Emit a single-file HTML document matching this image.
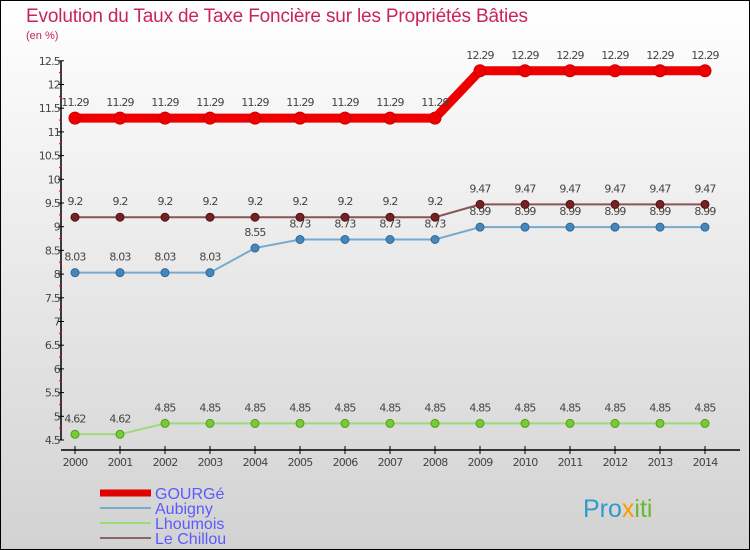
<!DOCTYPE html>
<html><head><meta charset="utf-8"><style>
body{margin:0}
#c{position:relative;width:750px;height:550px;overflow:hidden}
svg text{font-family:"DejaVu Sans","Liberation Sans",sans-serif}
</style></head><body>
<div id="c">
<svg id="s" width="750" height="550" xmlns="http://www.w3.org/2000/svg">
<defs><linearGradient id="bg" x1="0" y1="0" x2="0" y2="1"><stop offset="0" stop-color="#ffffff"/><stop offset="1" stop-color="#d2d2d2"/></linearGradient></defs>
<rect x="0.5" y="0.5" width="749" height="549" fill="url(#bg)" stroke="#000"/>
<text x="26" y="22" font-size="19" fill="#c8245a" style="font-family:'Liberation Sans',sans-serif" textLength="502">Evolution du Taux de Taxe Foncière sur les Propriétés Bâties</text>
<text x="26" y="39" font-size="11" fill="#c8245a" style="font-family:'Liberation Sans',sans-serif">(en %)</text>
<g id="axes"></g><g id="series"></g>
<g style="font-family:'Liberation Sans',sans-serif">
<line x1="100" y1="493" x2="151" y2="493" stroke="#e00000" stroke-width="7"/>
<text x="155" y="499" font-size="16" fill="#5a5aff" style="font-family:'Liberation Sans',sans-serif">GOURGé</text>
<line x1="100" y1="508" x2="151" y2="508" stroke="#77aacc" stroke-width="2"/>
<text x="155" y="514" font-size="16" fill="#5a5aff" style="font-family:'Liberation Sans',sans-serif">Aubigny</text>
<line x1="100" y1="523" x2="151" y2="523" stroke="#99dd77" stroke-width="2"/>
<text x="155" y="529" font-size="16" fill="#5a5aff" style="font-family:'Liberation Sans',sans-serif">Lhoumois</text>
<line x1="100" y1="538" x2="151" y2="538" stroke="#886666" stroke-width="2"/>
<text x="155" y="544" font-size="16" fill="#5a5aff" style="font-family:'Liberation Sans',sans-serif">Le Chillou</text>
</g>
<text x="583" y="517" font-size="25" fill="#3399cc" style="font-family:'Liberation Sans',sans-serif">Pro<tspan fill="#ff9900">x</tspan><tspan fill="#66bb33">iti</tspan></text>
</svg></div>
<script>
const years=[2000,2001,2002,2003,2004,2005,2006,2007,2008,2009,2010,2011,2012,2013,2014];
const gourge=[11.29,11.29,11.29,11.29,11.29,11.29,11.29,11.29,11.29,12.29,12.29,12.29,12.29,12.29,12.29];
const aubigny=[8.03,8.03,8.03,8.03,8.55,8.73,8.73,8.73,8.73,8.99,8.99,8.99,8.99,8.99,8.99];
const lhoumois=[4.62,4.62,4.85,4.85,4.85,4.85,4.85,4.85,4.85,4.85,4.85,4.85,4.85,4.85,4.85];
const chillou=[9.2,9.2,9.2,9.2,9.2,9.2,9.2,9.2,9.2,9.47,9.47,9.47,9.47,9.47,9.47];
const yTicks=[4.5,5,5.5,6,6.5,7,7.5,8,8.5,9,9.5,10,10.5,11,11.5,12,12.5];
const NS="http://www.w3.org/2000/svg";
const X=i=>75+i*45, Y=v=>440-(v-4.5)*47.4;
function el(t,a,p){const e=document.createElementNS(NS,t);for(const k in a)e.setAttribute(k,a[k]);p.appendChild(e);return e;}
const ax=document.getElementById('axes');
const ya=el('line',{x1:61,y1:Y(12.5),x2:61,y2:Y(4.5),stroke:'#000','stroke-width':1.5},ax);


yTicks.forEach((v,i)=>{
 el('line',{x1:58,y1:Y(v),x2:64,y2:Y(v),stroke:'#000'},ax);
 if(i<yTicks.length-1) el('line',{x1:59,y1:Y(v+0.25),x2:62,y2:Y(v+0.25),stroke:'#e00'},ax);
 const t=el('text',{x:60,y:Y(v)+4,'font-size':11,'text-anchor':'end',fill:'#444','letter-spacing':'-0.8'},ax);
 t.textContent=String(v);
 
 
});
const xa=el('line',{x1:61,y1:450,x2:740,y2:450,stroke:'#000','stroke-width':1.5},ax);


years.forEach((y,i)=>{
 el('line',{x1:X(i),y1:446,x2:X(i),y2:454,stroke:'#000'},ax);
 const t=el('text',{x:X(i),y:466,'font-size':11,'text-anchor':'middle',fill:'#444','letter-spacing':'-0.8'},ax);
 t.textContent=y;
 
 
});
const sg=document.getElementById('series');
function series(name,vals,color,w,r,dot,dotStroke){
 const g=el('g',{},sg);
 
 
 el('polyline',{points:vals.map((v,i)=>X(i)+','+Y(v)).join(' '),fill:'none',stroke:color,'stroke-width':w},g);
 vals.forEach((v,i)=>{
  const c=el('circle',{cx:X(i),cy:Y(v),r:r,fill:dot,stroke:dotStroke,'stroke-width':1},g);
  
  
  const t=el('text',{x:X(i),y:Y(v)-12,'font-size':11,'text-anchor':'middle',fill:'#444','letter-spacing':'-0.8'},g);
  t.textContent=String(v);
  
  
 });
}
series('lhoumois',lhoumois,'#99dd77',2,4,'#77cc33','#559922');
series('aubigny',aubigny,'#77aacc',2,4,'#4488bb','#336699');
series('le-chillou',chillou,'#885555',2,4,'#772222','#551111');
series('gourge',gourge,'#ee0000',9,6,'#ee0000','#cc0000');
</script>
</body></html>
